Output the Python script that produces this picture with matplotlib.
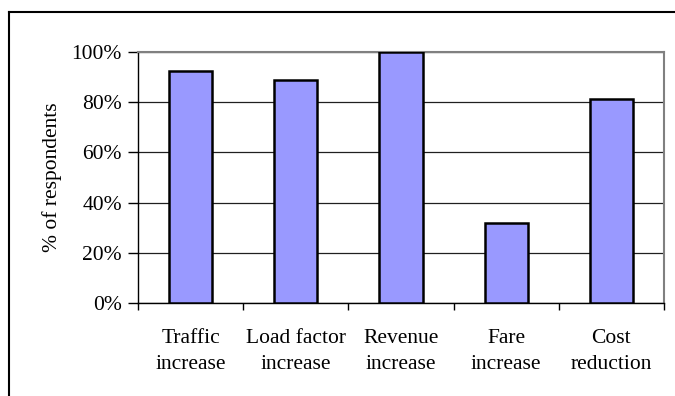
import matplotlib
matplotlib.use("Agg")
import matplotlib.pyplot as plt
from matplotlib.lines import Line2D
from matplotlib.ticker import FuncFormatter, MultipleLocator

# survey results: share of respondents reporting each effect
categories = ["Traffic\nincrease", "Load factor\nincrease", "Revenue\nincrease",
              "Fare\nincrease", "Cost\nreduction"]
shares = [92.5, 88.8, 100.0, 32.0, 81.4]

W, H, DPI = 675, 396, 100
plt.rcParams['font.family'] = ['Liberation Serif', 'DejaVu Serif']

fig = plt.figure(figsize=(W / DPI, H / DPI), dpi=DPI)
# plot area in pixels: left 138, top 52, right 664, bottom 303
ax = fig.add_axes([138 / W, 1 - 303 / H, (664 - 138) / W, (303 - 52) / H])

x = list(range(len(categories)))
ax.bar(x, shares, width=0.41, color='#9999FF', edgecolor='black', linewidth=1.8, zorder=3)

ax.set_xlim(-0.5, len(categories) - 0.5)
ax.set_ylim(0, 100)
ax.yaxis.set_major_locator(MultipleLocator(20))
ax.yaxis.set_major_formatter(FuncFormatter(lambda v, p: f"{v:.0f}%"))
ax.yaxis.grid(True, color='#202020', linewidth=0.9, zorder=0)

# category labels centred under bars, ticks on the category boundaries
ax.set_xticks(x)
ax.set_xticklabels(categories, fontsize=15.5, linespacing=1.5)
ax.tick_params(axis='x', length=0, pad=19)
ax.set_xticks([i - 0.5 for i in range(len(categories) + 1)], minor=True)
ax.tick_params(axis='x', which='minor', length=5, width=1, direction='out', color='black')
ax.tick_params(axis='y', length=7, width=1, direction='out', labelsize=15.5, pad=4.5)

for side in ['left', 'bottom']:
    ax.spines[side].set_color('black')
    ax.spines[side].set_linewidth(1.0)
for side in ['top', 'right']:
    ax.spines[side].set_color('#808080')
    ax.spines[side].set_linewidth(1.5)

ax.set_ylabel("% of respondents", fontsize=15.5, labelpad=7)

# outer chart frame (left and top edges)
fig.add_artist(Line2D([9 / W, 9 / W], [0, 1 - 12 / H], color='black', linewidth=1.5,
                      transform=fig.transFigure))
fig.add_artist(Line2D([9 / W, 1], [1 - 12 / H, 1 - 12 / H], color='black', linewidth=1.5,
                      transform=fig.transFigure))

fig.savefig("out.png", dpi=DPI)
